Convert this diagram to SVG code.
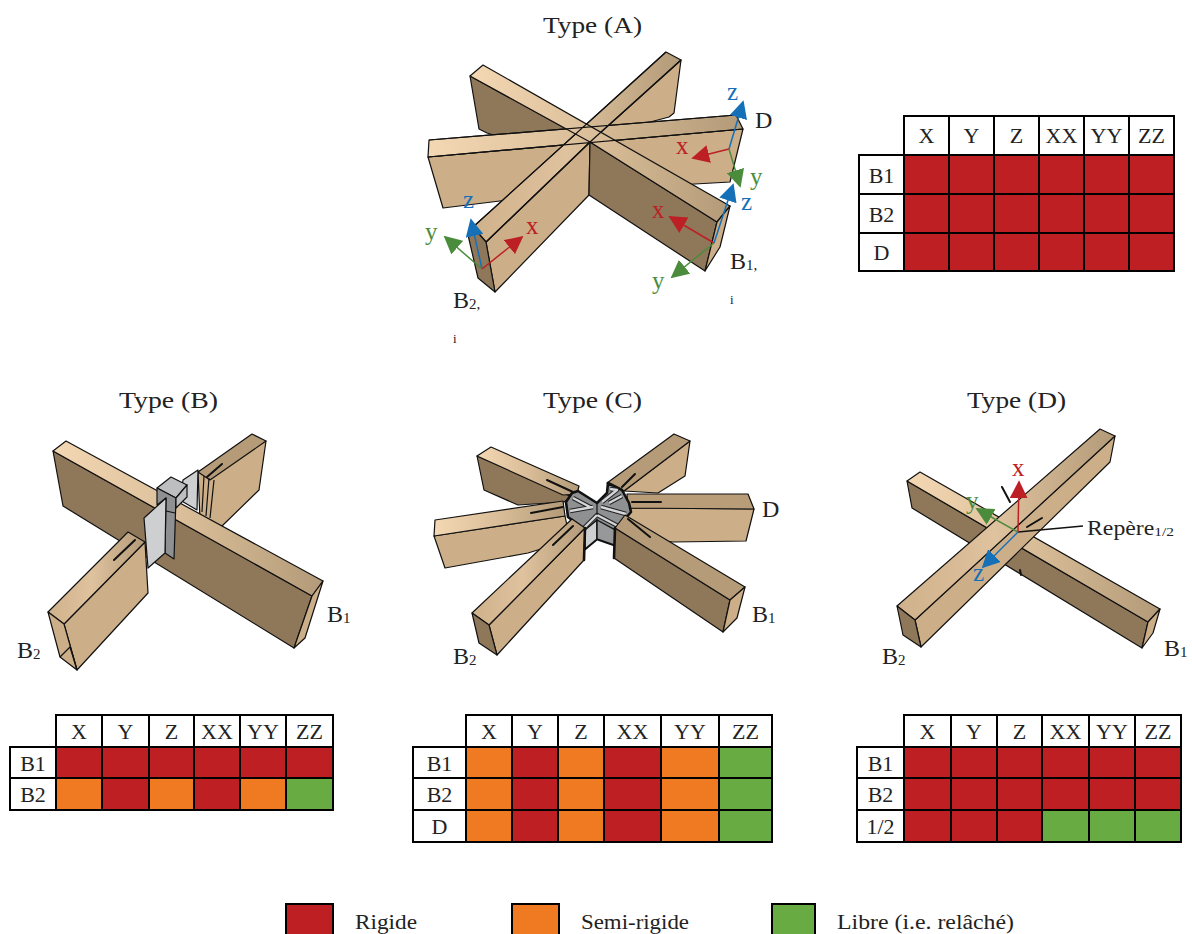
<svg xmlns="http://www.w3.org/2000/svg" width="1192" height="934" viewBox="0 0 1192 934">
<style>
text{font-family:"Liberation Serif","Times New Roman",serif;fill:#222}
.t{font-size:24px}
.l{font-size:24px}
.h{font-size:22px;text-anchor:middle}
.s{font-size:15px}
.i{font-size:13px}
.c{font-size:25px}
.lg{font-size:20px}
.red{fill:#bd2024}.grn{fill:#4b8b3c}.blu{fill:#1670b8}
.e{stroke:#111;stroke-width:1.2;stroke-linejoin:round;fill:none}
.f{stroke:#111;stroke-width:1.2;stroke-linejoin:round}
.b{stroke:#111;stroke-width:2;stroke-linecap:round;fill:none}
.k{stroke:#111;stroke-width:2.6;stroke-linecap:round;fill:none}
.lt{fill:#ccae88}.dk{fill:#8f7759}.gtop{fill:url(#gt)}.gup{fill:url(#gu)}.gur{fill:#b59b78}
.cw{fill:#fff;stroke:#000;stroke-width:2}
.R{fill:#bd1f22;stroke:#000;stroke-width:2}
.O{fill:#f07a22;stroke:#000;stroke-width:2}
.G{fill:#68ab42;stroke:#000;stroke-width:2}
.ax{fill:none;stroke-width:1.5}
.g1{fill:#cdcfd1}.g2{fill:#8f9092}.g3{fill:#bcbec0}
.cs{fill:none;stroke:#222;stroke-width:4.5;stroke-linejoin:round}
.cl{fill:none;stroke:#d4d5d7;stroke-width:2.4;stroke-linejoin:round}
</style>
<defs>
<linearGradient id="gt" x1="0" x2="1" y1="0" y2="0"><stop offset="0" stop-color="#f4d8b4"/><stop offset=".5" stop-color="#d9bd98"/><stop offset="1" stop-color="#b39a78"/></linearGradient>
<linearGradient id="gu" x1="0" x2="1" y1="0" y2="0"><stop offset="0" stop-color="#cfb18b"/><stop offset=".45" stop-color="#dfc29e"/><stop offset="1" stop-color="#b39a78"/></linearGradient>
<marker id="ar" viewBox="0 0 10 10" refX="9" refY="5" markerUnits="userSpaceOnUse" markerWidth="18" markerHeight="18" orient="auto"><path d="M0 0L10 5L0 10z" fill="#bd2024"/></marker>
<marker id="ag" viewBox="0 0 10 10" refX="9" refY="5" markerUnits="userSpaceOnUse" markerWidth="18" markerHeight="18" orient="auto"><path d="M0 0L10 5L0 10z" fill="#4b8b3c"/></marker>
<marker id="ab" viewBox="0 0 10 10" refX="9" refY="5" markerUnits="userSpaceOnUse" markerWidth="18" markerHeight="18" orient="auto"><path d="M0 0L10 5L0 10z" fill="#1670b8"/></marker>
</defs>

<g id="titles">
<text class="t" x="543" y="33" textLength="99" lengthAdjust="spacingAndGlyphs">Type (A)</text>
<text class="t" x="119" y="408" textLength="99" lengthAdjust="spacingAndGlyphs">Type (B)</text>
<text class="t" x="543" y="408" textLength="99" lengthAdjust="spacingAndGlyphs">Type (C)</text>
<text class="t" x="967" y="408" textLength="99" lengthAdjust="spacingAndGlyphs">Type (D)</text>
</g>

<g id="node-type-a">
<polygon class="f dk" points="470,76 590,142 540,150 487,133 479,129"/>
<polygon class="f lt" points="681,60 674,113 669,117 620,130 590,142"/>
<polygon class="f lt" points="428,157 743,129 730,182 589,190 443,208"/>
<polygon class="f" fill="url(#gt)" points="429,140 736,115 743,129 428,157"/>
<polygon class="f lt" points="486,242 590,142 589,195 495,292"/>
<polygon class="f" fill="url(#gu)" points="473,227 666,52 681,60 590,142 486,242"/>
<polygon class="f dk" points="590,142 717,222 705,271 589,195"/>
<polygon class="f gtop" points="470,76 483,65 730,206 717,222 590,142"/>
<polygon class="f dk" points="468,235 473,227 486,242 495,292 478,278"/>
<polygon class="f lt" points="717,222 730,206 720,247 705,271"/>
<path class="e" d="M429,140L736,115M428,157L743,129M473,227L666,52M486,242L590,142L681,60"/>
</g>

<g id="node-type-b">
<polygon class="f lt" points="266,441 259,490 222,526 200,520 198,472"/>
<polygon class="f gur" points="252,434 266,441 210,480 198,472"/>
<polygon class="f g1" points="183,480 198,470 197,510 180,500"/>
<path class="e" d="M204,476L202,512M209,478L206,516M214,480L210,518"/>
<polygon class="f dk" points="53,451 312,596 294,648 63,506"/>
<polygon class="f gtop" points="53,451 66,441 323,581 312,596"/>
<polygon class="f lt" points="312,596 323,581 305,638 294,648"/>
<polygon class="f g3" points="157,488 176,498 187,485 171,477"/>
<polygon class="f g2" points="157,488 176,498 174,559 165,553 166,498 157,505"/>
<polygon class="f g3" points="176,498 187,485 187,497 176,508"/>
<polygon class="f g1" points="144,518 166,498 165,553 148,568"/>
<path class="e" d="M166,511L175,513"/>
<polygon class="f lt" points="64,624 145,542 148,593 77,670"/>
<polygon class="f" fill="url(#gu)" points="48,612 128,532 145,542 64,624"/>
<polygon class="f lt" points="48,612 64,624 77,670 60,657"/>
<path class="e" d="M60,657L70,647L77,670"/>
<path class="b" d="M207,477L222,464M114,560L135,540"/>
</g>

<g id="node-type-c">
<polygon class="f dk" points="477,456 572,497 564,502 518,505 484,490"/>
<polygon class="f gtop" points="477,456 491,447 579,486 577,494 563,495"/>
<polygon class="f lt" points="690,441 685,476 658,493 624,491"/>
<polygon class="f gur" points="674,434 690,441 624,491 607,483"/>
<polygon class="f lt" points="631,508 754,509 746,541 673,542 620,535"/>
<polygon class="f" fill="#b89d78" points="627,494 748,494 754,509 628,508"/>
<polygon class="f lt" points="434,536 565,516 570,540 528,553 445,568"/>
<polygon class="f" fill="url(#gt)" points="435,520 563,501 565,516 434,536"/>
<polygon class="g2" stroke="#111" stroke-width="2.6" stroke-linejoin="round" points="566,502 572,493 578,491 597,503 607,493 608,483 622,490 629,503 631,512 618,527 617,546 597,539 585,549 585,530 568,517"/>
<polygon class="g1" stroke="#111" stroke-width="1.4" points="585,530 597,520 597,539 585,549"/>
<polygon fill="#97989a" stroke="#111" stroke-width="1.4" points="597,520 617,531 617,546 597,539"/>
<path class="cs" d="M570,511L593,507M601,507L626,514M573,498L590,507M602,502L617,490L610,489M584,528L597,515L618,526M609,503L622,496"/>
<path class="cl" d="M570,511L593,507M601,507L626,514M573,498L590,507M602,502L617,490L610,489M584,528L597,515L618,526M609,503L622,496"/>
<path class="e" d="M597,503V515"/>
<polygon class="f lt" points="489,625 585,528 584,560 497,655"/>
<polygon class="f" fill="url(#gu)" points="472,613 572,519 585,528 489,625"/>
<polygon class="f dk" points="472,613 489,625 497,655 479,643"/>
<polygon class="f dk" points="615,528 730,600 723,632 614,558"/>
<polygon class="f gur" points="625,515 745,587 730,600 615,528"/>
<polygon class="f lt" points="730,600 745,587 737,618 723,632"/>
<path class="k" d="M585,528L584,560M615,528L614,558"/>
<path class="b" d="M547,480L573,492M622,487L635,474M632,502H661M531,513L563,507M553,545L573,526M628,519L650,537"/>
</g>

<g id="node-type-d">
<polygon class="f dk" points="907,481 1148,622 1142,648 912,508"/>
<polygon class="f gtop" points="907,481 920,472 1160,609 1148,622"/>
<polygon class="f lt" points="1148,622 1160,609 1153,633 1142,648"/>
<path class="b" d="M1002,487L1010,502M1020,570L1021,575"/>
<polygon class="f lt" points="915,620 1115,436 1110,462 921,647"/>
<polygon class="f" fill="url(#gu)" points="897,606 1100,429 1115,436 915,620"/>
<polygon class="f dk" points="897,606 915,620 921,647 903,635"/>
<path class="b" d="M1027,527L1042,518"/>
<path d="M1018,532L1083,526" stroke="#111" stroke-width="1.4" fill="none"/>
</g>

<g id="connectors">
<path class="ax" stroke="#1670b8" marker-end="url(#ab)" d="M482,269L471,220"/>
<path class="ax" stroke="#4b8b3c" marker-end="url(#ag)" d="M482,269L445,237"/>
<path class="ax" stroke="#bd2024" marker-end="url(#ar)" d="M482,269L522,237"/>
<path class="ax" stroke="#1670b8" marker-end="url(#ab)" d="M714,243L733,185"/>
<path class="ax" stroke="#bd2024" marker-end="url(#ar)" d="M714,243L670,217"/>
<path class="ax" stroke="#4b8b3c" marker-end="url(#ag)" d="M714,243L672,277"/>
<path class="ax" stroke="#1670b8" marker-end="url(#ab)" d="M729,149L743,102"/>
<path class="ax" stroke="#bd2024" marker-end="url(#ar)" d="M729,149L693,158"/>
<path class="ax" stroke="#4b8b3c" marker-end="url(#ag)" d="M729,149L740,186"/>
<path class="ax" stroke="#bd2024" marker-end="url(#ar)" d="M1018,532L1019,482"/>
<path class="ax" stroke="#4b8b3c" marker-end="url(#ag)" d="M1018,532L977,509"/>
<path class="ax" stroke="#1670b8" marker-end="url(#ab)" d="M1018,532L983,567"/>
</g>

<g id="labels">
<text class="c blu" x="463" y="208">z</text><text class="c grn" x="425" y="240">y</text><text class="c red" x="526" y="234">x</text>
<text class="c blu" x="741" y="210">z</text><text class="c red" x="652" y="218">x</text><text class="c grn" x="652" y="289">y</text>
<text class="c blu" x="727" y="100">z</text><text class="c red" x="676" y="154">x</text><text class="c grn" x="750" y="185">y</text>
<text class="c red" x="1012" y="476">x</text><text class="c grn" x="966" y="509">y</text><text class="c blu" x="973" y="581">z</text>
<text class="l" x="755" y="128">D</text>
<text class="l" x="730" y="269">B<tspan class="s" dy="1">1,</tspan></text><text class="i" x="730" y="304">i</text>
<text class="l" x="453" y="308">B<tspan class="s" dy="1">2,</tspan></text><text class="i" x="453" y="343">i</text>
<text class="l" x="327" y="622">B<tspan class="s" dy="1">1</tspan></text>
<text class="l" x="17" y="658">B<tspan class="s" dy="1">2</tspan></text>
<text class="l" x="762" y="517">D</text>
<text class="l" x="752" y="622">B<tspan class="s" dy="1">1</tspan></text>
<text class="l" x="453" y="664">B<tspan class="s" dy="1">2</tspan></text>
<text class="l" x="1164" y="656">B<tspan class="s" dy="1">1</tspan></text>
<text class="l" x="882" y="664">B<tspan class="s" dy="1">2</tspan></text>
<text style="font-size:20px" x="1087" y="535" textLength="87" lengthAdjust="spacingAndGlyphs">Repère<tspan class="i" dy="1">1/2</tspan></text>
</g>

<g id="table-a">
<rect class="cw" x="904" y="116" width="45" height="39"/><rect class="cw" x="949" y="116" width="45" height="39"/><rect class="cw" x="994" y="116" width="45" height="39"/><rect class="cw" x="1039" y="116" width="45" height="39"/><rect class="cw" x="1084" y="116" width="45" height="39"/><rect class="cw" x="1129" y="116" width="45" height="39"/>
<rect class="cw" x="859" y="155" width="45" height="39"/><rect class="cw" x="859" y="194" width="45" height="39"/><rect class="cw" x="859" y="233" width="45" height="38"/>
<rect class="R" x="904" y="155" width="45" height="39"/><rect class="R" x="949" y="155" width="45" height="39"/><rect class="R" x="994" y="155" width="45" height="39"/><rect class="R" x="1039" y="155" width="45" height="39"/><rect class="R" x="1084" y="155" width="45" height="39"/><rect class="R" x="1129" y="155" width="45" height="39"/>
<rect class="R" x="904" y="194" width="45" height="39"/><rect class="R" x="949" y="194" width="45" height="39"/><rect class="R" x="994" y="194" width="45" height="39"/><rect class="R" x="1039" y="194" width="45" height="39"/><rect class="R" x="1084" y="194" width="45" height="39"/><rect class="R" x="1129" y="194" width="45" height="39"/>
<rect class="R" x="904" y="233" width="45" height="38"/><rect class="R" x="949" y="233" width="45" height="38"/><rect class="R" x="994" y="233" width="45" height="38"/><rect class="R" x="1039" y="233" width="45" height="38"/><rect class="R" x="1084" y="233" width="45" height="38"/><rect class="R" x="1129" y="233" width="45" height="38"/>
<text class="h" x="926.500" y="143">X</text><text class="h" x="971.500" y="143">Y</text><text class="h" x="1016.500" y="143">Z</text><text class="h" x="1061.500" y="143">XX</text><text class="h" x="1106.500" y="143">YY</text><text class="h" x="1151.500" y="143">ZZ</text>
<text class="h" x="881.500" y="183">B1</text><text class="h" x="881.500" y="222">B2</text><text class="h" x="881.500" y="260">D</text>
</g>

<g id="table-b">
<rect class="cw" x="56" y="715" width="46" height="32"/><rect class="cw" x="102" y="715" width="47" height="32"/><rect class="cw" x="149" y="715" width="45" height="32"/><rect class="cw" x="194" y="715" width="46" height="32"/><rect class="cw" x="240" y="715" width="46" height="32"/><rect class="cw" x="286" y="715" width="47" height="32"/>
<rect class="cw" x="10" y="747" width="46" height="31"/><rect class="cw" x="10" y="778" width="46" height="32"/>
<rect class="R" x="56" y="747" width="46" height="31"/><rect class="R" x="102" y="747" width="47" height="31"/><rect class="R" x="149" y="747" width="45" height="31"/><rect class="R" x="194" y="747" width="46" height="31"/><rect class="R" x="240" y="747" width="46" height="31"/><rect class="R" x="286" y="747" width="47" height="31"/>
<rect class="O" x="56" y="778" width="46" height="32"/><rect class="R" x="102" y="778" width="47" height="32"/><rect class="O" x="149" y="778" width="45" height="32"/><rect class="R" x="194" y="778" width="46" height="32"/><rect class="O" x="240" y="778" width="46" height="32"/><rect class="G" x="286" y="778" width="47" height="32"/>
<text class="h" x="79" y="739">X</text><text class="h" x="125.500" y="739">Y</text><text class="h" x="171.500" y="739">Z</text><text class="h" x="217" y="739">XX</text><text class="h" x="263" y="739">YY</text><text class="h" x="309.500" y="739">ZZ</text>
<text class="h" x="33" y="771">B1</text><text class="h" x="33" y="802">B2</text>
</g>

<g id="table-c">
<rect class="cw" x="466" y="715" width="46" height="32"/><rect class="cw" x="512" y="715" width="46" height="32"/><rect class="cw" x="558" y="715" width="46" height="32"/><rect class="cw" x="604" y="715" width="57" height="32"/><rect class="cw" x="661" y="715" width="58" height="32"/><rect class="cw" x="719" y="715" width="53" height="32"/>
<rect class="cw" x="413" y="747" width="53" height="31"/><rect class="cw" x="413" y="778" width="53" height="32"/><rect class="cw" x="413" y="810" width="53" height="32"/>
<rect class="O" x="466" y="747" width="46" height="31"/><rect class="R" x="512" y="747" width="46" height="31"/><rect class="O" x="558" y="747" width="46" height="31"/><rect class="R" x="604" y="747" width="57" height="31"/><rect class="O" x="661" y="747" width="58" height="31"/><rect class="G" x="719" y="747" width="53" height="31"/>
<rect class="O" x="466" y="778" width="46" height="32"/><rect class="R" x="512" y="778" width="46" height="32"/><rect class="O" x="558" y="778" width="46" height="32"/><rect class="R" x="604" y="778" width="57" height="32"/><rect class="O" x="661" y="778" width="58" height="32"/><rect class="G" x="719" y="778" width="53" height="32"/>
<rect class="O" x="466" y="810" width="46" height="32"/><rect class="R" x="512" y="810" width="46" height="32"/><rect class="O" x="558" y="810" width="46" height="32"/><rect class="R" x="604" y="810" width="57" height="32"/><rect class="O" x="661" y="810" width="58" height="32"/><rect class="G" x="719" y="810" width="53" height="32"/>
<text class="h" x="489" y="739">X</text><text class="h" x="535" y="739">Y</text><text class="h" x="581" y="739">Z</text><text class="h" x="632.500" y="739">XX</text><text class="h" x="690" y="739">YY</text><text class="h" x="745.500" y="739">ZZ</text>
<text class="h" x="439.500" y="771">B1</text><text class="h" x="439.500" y="802">B2</text><text class="h" x="439.500" y="834">D</text>
</g>

<g id="table-d">
<rect class="cw" x="904" y="715" width="47" height="32"/><rect class="cw" x="951" y="715" width="46" height="32"/><rect class="cw" x="997" y="715" width="45" height="32"/><rect class="cw" x="1042" y="715" width="47" height="32"/><rect class="cw" x="1089" y="715" width="46" height="32"/><rect class="cw" x="1135" y="715" width="46" height="32"/>
<rect class="cw" x="857" y="747" width="47" height="31"/><rect class="cw" x="857" y="778" width="47" height="32"/><rect class="cw" x="857" y="810" width="47" height="32"/>
<rect class="R" x="904" y="747" width="47" height="31"/><rect class="R" x="951" y="747" width="46" height="31"/><rect class="R" x="997" y="747" width="45" height="31"/><rect class="R" x="1042" y="747" width="47" height="31"/><rect class="R" x="1089" y="747" width="46" height="31"/><rect class="R" x="1135" y="747" width="46" height="31"/>
<rect class="R" x="904" y="778" width="47" height="32"/><rect class="R" x="951" y="778" width="46" height="32"/><rect class="R" x="997" y="778" width="45" height="32"/><rect class="R" x="1042" y="778" width="47" height="32"/><rect class="R" x="1089" y="778" width="46" height="32"/><rect class="R" x="1135" y="778" width="46" height="32"/>
<rect class="R" x="904" y="810" width="47" height="32"/><rect class="R" x="951" y="810" width="46" height="32"/><rect class="R" x="997" y="810" width="45" height="32"/><rect class="G" x="1042" y="810" width="47" height="32"/><rect class="G" x="1089" y="810" width="46" height="32"/><rect class="G" x="1135" y="810" width="46" height="32"/>
<text class="h" x="927.500" y="739">X</text><text class="h" x="974" y="739">Y</text><text class="h" x="1019.500" y="739">Z</text><text class="h" x="1065.500" y="739">XX</text><text class="h" x="1112" y="739">YY</text><text class="h" x="1158" y="739">ZZ</text>
<text class="h" x="880.500" y="771">B1</text><text class="h" x="880.500" y="802">B2</text><text class="h" x="880.500" y="834">1/2</text>
</g>

<g id="legend">
<rect class="R" x="286" y="904" width="47" height="32"/><text class="lg" x="355" y="929" textLength="62" lengthAdjust="spacingAndGlyphs">Rigide</text>
<rect class="O" x="512" y="904" width="47" height="32"/><text class="lg" x="581" y="929" textLength="108" lengthAdjust="spacingAndGlyphs">Semi-rigide</text>
<rect class="G" x="772" y="904" width="43" height="32"/><text class="lg" x="837" y="929" textLength="177" lengthAdjust="spacingAndGlyphs">Libre (i.e. relâché)</text>
</g>
</svg>
